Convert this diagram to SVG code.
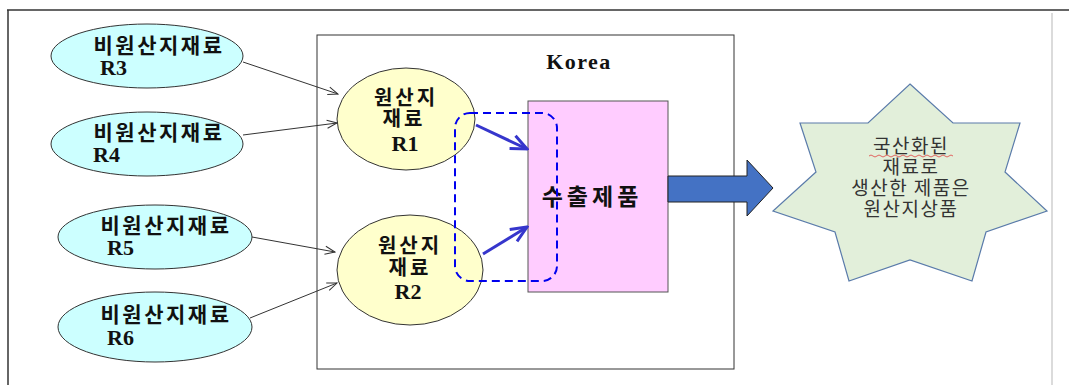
<svg xmlns="http://www.w3.org/2000/svg" width="1069" height="385" viewBox="0 0 1069 385">
<style>
.ko{font-family:"Noto Sans CJK KR","Noto Sans",sans-serif;font-weight:bold;fill:#111;text-anchor:middle}
.rn{font-family:"Liberation Serif",serif;font-weight:bold;fill:#111}
.cy{fill:#CCFFFF;stroke:#333;stroke-width:1}
.yl{fill:#FFFFCC;stroke:#333;stroke-width:1}
.thin{stroke:#333;stroke-width:1;fill:none}
.blue{stroke:#3636CC;stroke-width:3;fill:none}
.st{font-family:"Noto Sans CJK KR","Noto Sans",sans-serif;fill:#333;font-size:19px;text-anchor:middle;letter-spacing:1.5px}
</style>
<defs>
<marker id="oa" markerWidth="12" markerHeight="10" refX="11" refY="5" orient="auto" markerUnits="userSpaceOnUse">
<path d="M1,1 L11,5 L1,9" fill="none" stroke="#333" stroke-width="1"/>
</marker>
<marker id="ba" markerWidth="22" markerHeight="18" refX="20" refY="9" orient="auto" markerUnits="userSpaceOnUse">
<path d="M4,2 L20,9 L4,16" fill="none" stroke="#3636CC" stroke-width="3"/>
</marker>
</defs>
<rect width="1069" height="385" fill="#fff"/>
<g id="frame">
<line x1="7" y1="10" x2="1069" y2="10" stroke="#333" stroke-width="1.5"/>
<line x1="8" y1="10" x2="8" y2="385" stroke="#333" stroke-width="1.5"/>
<line x1="1052" y1="13" x2="1052" y2="385" stroke="#cfcfcf" stroke-width="1.5"/>
</g>
<g id="korea">
<rect x="317" y="35" width="417" height="334" fill="#fff" stroke="#333" stroke-width="1"/>
<text x="579" y="69" class="rn" font-size="22" text-anchor="middle" letter-spacing="1.5">Korea</text>
</g>
<g id="export">
<rect x="528" y="101" width="140" height="191" fill="#FFCCFF" stroke="#555" stroke-width="1"/>
<text x="592" y="205" class="ko" font-size="23" letter-spacing="4">수출제품</text>
</g>
<g id="r3">
<ellipse class="cy" cx="147" cy="56" rx="96" ry="32"/>
<text x="159" y="53" class="ko" font-size="21" letter-spacing="2.5">비원산지재료</text>
<text x="100" y="75" class="rn" font-size="22">R3</text>
</g>
<g id="r4">
<ellipse class="cy" cx="147" cy="144" rx="96" ry="32"/>
<text x="159" y="140" class="ko" font-size="21" letter-spacing="2.5">비원산지재료</text>
<text x="93" y="162" class="rn" font-size="22">R4</text>
</g>
<g id="r5">
<ellipse class="cy" cx="155" cy="237" rx="97" ry="32"/>
<text x="166" y="233" class="ko" font-size="21" letter-spacing="2.5">비원산지재료</text>
<text x="107" y="255" class="rn" font-size="22">R5</text>
</g>
<g id="r6">
<ellipse class="cy" cx="155" cy="327" rx="97" ry="35"/>
<text x="166" y="322" class="ko" font-size="21" letter-spacing="2.5">비원산지재료</text>
<text x="107" y="345" class="rn" font-size="22">R6</text>
</g>
<g id="r1">
<ellipse class="yl" cx="406" cy="119" rx="69" ry="51"/>
<text x="406" y="105" class="ko" font-size="20" letter-spacing="3">원산지</text>
<text x="404" y="126" class="ko" font-size="20" letter-spacing="3">재료</text>
<text x="405" y="151" class="rn" font-size="22" text-anchor="middle">R1</text>
</g>
<g id="r2">
<ellipse class="yl" cx="410" cy="270" rx="73" ry="55"/>
<text x="410" y="253" class="ko" font-size="20" letter-spacing="3">원산지</text>
<text x="410" y="275" class="ko" font-size="20" letter-spacing="3">재료</text>
<text x="408" y="299" class="rn" font-size="22" text-anchor="middle">R2</text>
</g>
<g id="connectors">
<line class="thin" x1="243" y1="62" x2="338" y2="94" marker-end="url(#oa)"/>
<line class="thin" x1="243" y1="135" x2="337" y2="123" marker-end="url(#oa)"/>
<line class="thin" x1="252" y1="237" x2="335" y2="252" marker-end="url(#oa)"/>
<line class="thin" x1="250" y1="318" x2="337" y2="283" marker-end="url(#oa)"/>
<line class="blue" x1="476" y1="125" x2="527" y2="149" marker-end="url(#ba)"/>
<line class="blue" x1="483" y1="254" x2="527" y2="227" marker-end="url(#ba)"/>
<path d="M668,176 L747,176 L747,160 L773,188 L747,216 L747,202 L668,202 Z" fill="#4472C4" stroke="#222" stroke-width="1"/>
</g>
<g id="group-dashed">
<rect x="455" y="113" width="102" height="168" rx="15" ry="15" fill="none" stroke="#0000EE" stroke-width="2" stroke-dasharray="8,5"/>
</g>
<g id="star">
<polygon points="910,84 953,123 1020,123 1005,172 1047,211 986,232 972,281 910,260 849,281 835,232 773,211 816,172 800,123 868,123" fill="#E2EFDA" stroke="#5A7BAA" stroke-width="1.2"/>
<text x="911" y="153" class="st">국산화된</text>
<path d="M869,156 q2,-2 4,0 t4,0 t4,0 t4,0 t4,0 t4,0 t4,0 t4,0 t4,0 t4,0 t4,0 t4,0 t4,0 t4,0 t4,0 t4,0 t4,0 t4,0 t4,0 t4,0 t4,0" fill="none" stroke="#E04040" stroke-width="0.8"/>
<text x="911" y="174" class="st">재료로</text>
<text x="911" y="195" class="st">생산한 제품은</text>
<text x="911" y="216" class="st">원산지상품</text>
</g>
</svg>
